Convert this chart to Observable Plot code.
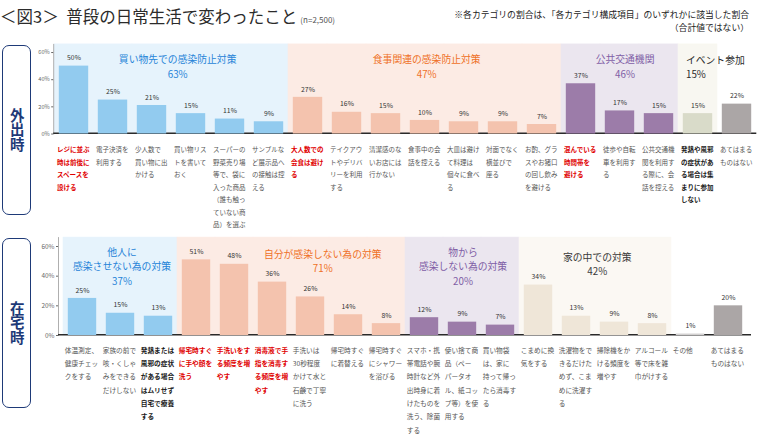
<!DOCTYPE html>
<html><head><meta charset="utf-8">
<script src="https://cdn.jsdelivr.net/npm/d3@7"></script>
<script src="https://cdn.jsdelivr.net/npm/@observablehq/plot@0.6"></script>
<style>
html,body{margin:0;padding:0;background:#fff;}
#wrap{position:relative;width:760px;height:437px;overflow:hidden;font-family:"Noto Sans CJK JP","Noto Sans",sans-serif;color:#333;}
#title{position:absolute;left:0;top:5px;font-size:16.5px;line-height:22px;white-space:nowrap;color:#2b2b2b;}
#title .n{font-size:8px;color:#555;margin-left:3px;}
#note{position:absolute;right:11px;top:8px;font-size:8.8px;line-height:13px;text-align:right;color:#222;white-space:nowrap;}
.side{position:absolute;left:2px;width:27px;border:1.6px solid #1e3a78;border-radius:7px;display:flex;align-items:center;justify-content:center;color:#1e3a78;font-weight:bold;}
.side span{writing-mode:vertical-rl;text-orientation:upright;font-size:14.5px;line-height:1;letter-spacing:0;}
#wrap svg{position:absolute;left:0;}
</style></head><body>
<div id="wrap">
  <div id="title">＜図3＞ <span style="margin-left:4px">普段の日常生活で変わったこと</span><span class="n">(n=2,500)</span></div>
  <div id="note">※各カテゴリの割合は、「各カテゴリ構成項目」のいずれかに該当した割合<br>（合計値ではない）</div>
  <div class="side" id="side1" style="top:45px;height:168px;"><span>外出時</span></div>
  <div class="side" id="side2" style="top:238px;height:168px;"><span>在宅時</span></div>
</div>
<script>
// ===== 外出時 =====
const outLabels = [
  "レジに並ぶ\n時は前後に\nスペースを\n設ける",
  "電子決済を\n利用する",
  "少人数で\n買い物に出\nかける",
  "買い物リス\nトを書いて\nおく",
  "スーパーの\n野菜売り場\n等で、袋に\n入った商品\n（誰も触っ\nていない商\n品）を選ぶ",
  "サンプルな\nど展示品へ\nの接触は控\nえる",
  "大人数での\n会食は避け\nる",
  "テイクアウ\nトやデリバ\nリーを利用\nする",
  "清潔感のな\nいお店には\n行かない",
  "食事中の会\n話を控える",
  "大皿は避け\nて料理は\n個々に食べ\nる",
  "対面でなく\n横並びで\n座る",
  "お酌、グラ\nスやお猪口\nの回し飲み\nを避ける",
  "混んでいる\n時間帯を\n避ける",
  "徒歩や自転\n車を利用す\nる",
  "公共交通機\n関を利用す\nる際に、会\n話を控える",
  "発熱や風邪\nの症状があ\nる場合は集\nまりに参加\nしない",
  "あてはまる\nものはない"
];
const outValues = [50,25,21,15,11,9, 27,16,15,10,9,9,7, 37,17,15, 15, 22];
const outGroups = [0,0,0,0,0,0, 1,1,1,1,1,1,1, 2,2,2, 3, null];
const outEmphasis = ["key","","","","","", "key","","","","","","", "key","","", "note", ""];
const outCatNames = ["買い物先での感染防止対策","食事関連の感染防止対策","公共交通機関","イベント参加"];
const outCatPcts = [63,47,46,15];

// ===== 在宅時 =====
const homeLabels = [
  "体温測定、\n健康チェッ\nクをする",
  "家族の前で\n咳・くしゃ\nみをできる\nだけしない",
  "発熱または\n風邪の症状\nがある場合\nはムリせず\n自宅で療養\nする",
  "帰宅時すぐ\nに手や顔を\n洗う",
  "手洗いをす\nる頻度を増\nやす",
  "消毒液で手\n指を消毒す\nる頻度を増\nやす",
  "手洗いは\n30秒程度\nかけて水と\n石鹸で丁寧\nに洗う",
  "帰宅時すぐ\nに着替える",
  "帰宅時すぐ\nにシャワー\nを浴びる",
  "スマホ・携\n帯電話や腕\n時計など外\n出時身に着\nけたものを\n洗う、除菌\nする",
  "使い捨て商\n品（ペー\nパータオ\nル、紙コッ\nプ等）を使\n用する",
  "買い物袋\nは、家に\n持って帰っ\nたら消毒す\nる",
  "こまめに換\n気をする",
  "洗濯物をで\nきるだけた\nめず、こま\nめに洗濯す\nる",
  "掃除機をか\nける頻度を\n増やす",
  "アルコール\n等で床を雑\n巾がけする",
  "その他",
  "あてはまる\nものはない"
];
const homeValues = [25,15,13, 51,48,36,26,14,8, 12,9,7, 34,13,9,8, 1,20];
const homeGroups = [0,0,0, 1,1,1,1,1,1, 2,2,2, 3,3,3,3, null,null];
const homeEmphasis = ["","","note", "key","key","key","","","", "","","", "","","","", "",""];
const homeCatNames = ["他人に\n感染させない為の対策","自分が感染しない為の対策","物から\n感染しない為の対策","家の中での対策"];
const homeCatPcts = [37,71,20,42];

const yTicks = [0,20,40,60];
const yMax = 66;

// ===== styles / layout =====
const W = 760;
const FONT = "'Noto Sans CJK JP','Noto Sans',sans-serif";
const outStyle = {
  top: 38, height: 194, ml: 53.2, mr: 3.7, mt: 5.9, mb: 98.5,
  labelDy: 9.4, labelFs: 6.5, labelLh: 1.92, labelDx: 2.5, tickFs: 5.6, valueFs: 6.8,
  titleFs: 9.8, titleLh: 1.46,
  titles: [{shift:6, dy:8.8}, {shift:1.5, dy:8.8}, {shift:5, dy:8.8}, {start:7.5, dy:9.4}],
  bar: ["#92cbef","#f4c3ae","#9c7ca9","#d9dbc9"],
  bg: ["#e6f3fc","#fcebe4","#ebe6ef","#f8f7f1"],
  title: ["#2684d8","#ef7127","#7f5ea6","#2a2a2a"]
};
const homeStyle = {
  top: 230, height: 207, ml: 58, mr: 9, mt: 7.1, mb: 102,
  labelDy: 7.8, labelFs: 6.7, labelLh: 1.99, labelDx: 1.5, tickFs: 6.4, valueFs: 6.8,
  titleFs: 9.8, titleLh: 1.46,
  titles: [{shift:1, dy:8.2}, {shift:30, dy:10.1}, {shift:0, dy:8.2}, {shift:1, dy:13.4}],
  bar: ["#92cbef","#f4c3ae","#9c7ca9","#efe6d8"],
  bg: ["#e6f3fc","#fcebe4","#ebe6ef","#fbf8f3"],
  title: ["#2684d8","#ef7127","#7f5ea6","#3a3a3a"]
};
const noneColor = "#aba6a6", otherColor = "#d3d1d1";

function panel(labels, values, groups, emphasis, catNames, catPcts, s) {
  const n = labels.length;
  const items = labels.map((label, i) => ({i, label, value: values[i], group: groups[i], emph: emphasis[i]}));
  const step = (W - s.ml - s.mr) / n;
  const cats = catNames.map((name, k) => {
    const idx = items.filter(d => d.group === k).map(d => d.i);
    return {k, name, pct: catPcts[k], first: idx[0], count: idx.length};
  });
  const barFill = d => d.group != null ? s.bar[d.group] : (d.label === "その他" ? otherColor : noneColor);
  const labelMark = (emph, fill, weight) => Plot.text(items.filter(d => d.emph === emph), {
    x: "i", y: () => 0, text: "label", textAnchor: "start", lineAnchor: "top",
    dx: -step / 2 + s.labelDx, dy: s.labelDy, fontSize: s.labelFs, lineHeight: s.labelLh,
    fill, fontWeight: weight
  });
  const titleMarks = cats.map(c => {
    const t = s.titles[c.k];
    return Plot.text([c], {
      x: d => d.first, frameAnchor: "top", text: d => d.name + "\n" + d.pct + "%",
      textAnchor: t.start != null ? "start" : "middle", lineAnchor: "top",
      dx: t.start != null ? -step / 2 + t.start : (c.count - 1) / 2 * step + t.shift,
      dy: t.dy, fontSize: s.titleFs, lineHeight: s.titleLh, fill: s.title[c.k]
    });
  });
  const svg = Plot.plot({
    width: W, height: s.height,
    marginLeft: s.ml, marginRight: s.mr, marginTop: s.mt, marginBottom: s.mb,
    style: {fontFamily: FONT, background: "transparent", overflow: "visible"},
    x: {type: "band", domain: d3.range(n), padding: 0, axis: null},
    y: {domain: [0, yMax], axis: null},
    color: {type: "identity"},
    marks: [
      Plot.barY(items.filter(d => d.group != null), {
        x: "i", y1: () => 0, y2: () => yMax, inset: 0,
        fill: d => s.bg[d.group], stroke: d => s.bg[d.group], strokeWidth: 0.6
      }),
      Plot.frame({anchor: "left", stroke: "#9a9a9a", strokeWidth: 0.8}),
      Plot.axisY(yTicks, {anchor: "left", label: null, tickFormat: d => d + "%", tickSize: 2, tickPadding: 2, fontSize: s.tickFs, color: "#666"}),
      Plot.ruleY([0], {stroke: "#2a2a2a", strokeWidth: 1.6, dy: -0.8}),
      Plot.barY(items, {x: "i", y: "value", fill: barFill, insetLeft: 4.8, insetRight: 4.8}),
      Plot.text(items, {x: "i", y: "value", text: d => d.value + "%", dy: -8, fontSize: s.valueFs, fill: "#333"}),
      ...titleMarks,
      labelMark("", "#555", "normal"),
      labelMark("key", "#e00000", "bold"),
      labelMark("note", "#1a1a1a", "bold")
    ]
  });
  svg.style.top = s.top + "px";
  document.getElementById("wrap").appendChild(svg);
}

panel(outLabels, outValues, outGroups, outEmphasis, outCatNames, outCatPcts, outStyle);
panel(homeLabels, homeValues, homeGroups, homeEmphasis, homeCatNames, homeCatPcts, homeStyle);
</script>
</body></html>
